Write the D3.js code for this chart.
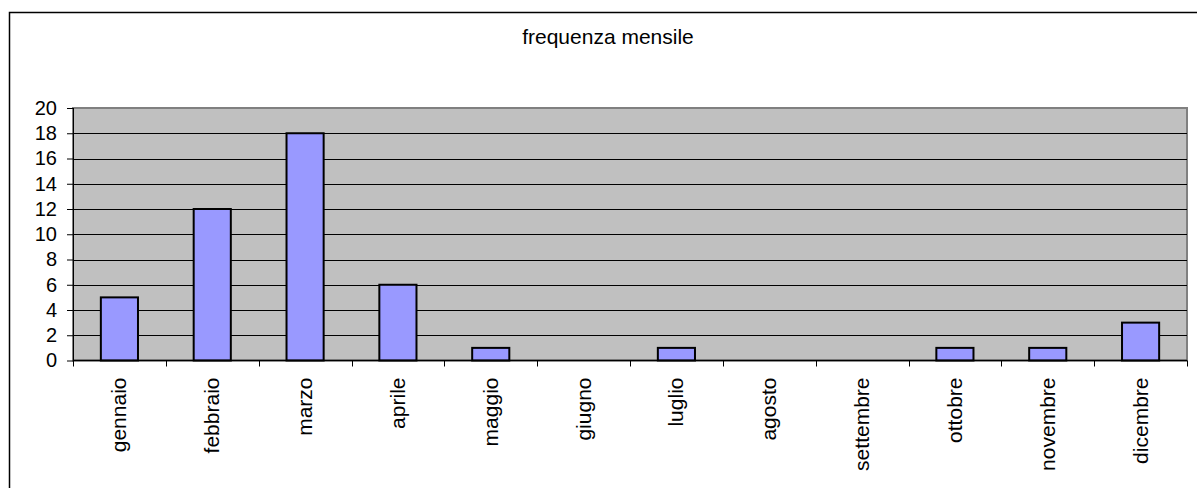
<!DOCTYPE html>
<html>
<head>
<meta charset="utf-8">
<script src="https://cdn.jsdelivr.net/npm/d3@7"></script>
<style>
  html, body { margin: 0; padding: 0; background: #fff; }
  svg { display: block; font-family: "Liberation Sans", Arial, sans-serif; }
</style>
</head>
<body>
<svg id="chart" width="1197" height="488"></svg>
<script>
// Monthly frequency data
const months = ["gennaio", "febbraio", "marzo", "aprile", "maggio", "giugno",
                "luglio", "agosto", "settembre", "ottobre", "novembre", "dicembre"];
const counts = [5, 12, 18, 6, 1, 0, 1, 0, 0, 1, 1, 3];
const yTicks = [0, 2, 4, 6, 8, 10, 12, 14, 16, 18, 20];
const title = "frequenza mensile";

const svg = d3.select("#chart");
const W = 1197, H = 488;
const plot = { left: 73, right: 1187, top: 108, bottom: 360.5 };
const FONT = 20;
const LABEL_FONT = 21;

// Outer chart frame (extends past the visible page)
svg.append("rect")
  .attr("x", 9.5).attr("y", 12.5)
  .attr("width", W + 20).attr("height", H + 20)
  .attr("fill", "#fff").attr("stroke", "#000").attr("stroke-width", 1.5);

svg.append("text")
  .attr("x", 608).attr("y", 44)
  .attr("text-anchor", "middle")
  .attr("font-size", LABEL_FONT)
  .attr("fill", "#000")
  .text(title);

const x = d3.scaleBand()
  .domain(months)
  .range([plot.left, plot.right])
  .paddingInner(0.6)
  .paddingOuter(0.3);

const xBoundary = d3.scaleLinear()
  .domain([0, months.length])
  .range([plot.left, plot.right]);

const y = d3.scaleLinear()
  .domain([0, 20])
  .range([plot.bottom, plot.top]);

// Plot area background
svg.append("rect")
  .attr("x", plot.left).attr("y", plot.top)
  .attr("width", plot.right - plot.left)
  .attr("height", plot.bottom - plot.top)
  .attr("fill", "#c0c0c0")
  .attr("stroke", "#808080").attr("stroke-width", 2);

// Horizontal gridlines
svg.append("g").selectAll("line")
  .data(yTicks.filter(d => d > 0 && d < 20))
  .join("line")
  .attr("x1", plot.left).attr("x2", plot.right)
  .attr("y1", d => Math.round(y(d)) + 0.5).attr("y2", d => Math.round(y(d)) + 0.5)
  .attr("stroke", "#000").attr("stroke-width", 1);

// Bars
svg.append("g").selectAll("rect")
  .data(months.map((m, i) => ({ m, v: counts[i] })).filter(d => d.v > 0))
  .join("rect")
  .attr("x", d => x(d.m))
  .attr("y", d => y(d.v))
  .attr("width", x.bandwidth())
  .attr("height", d => y(0) - y(d.v))
  .attr("fill", "#9999ff")
  .attr("stroke", "#000").attr("stroke-width", 2);

// Y axis
const yAxis = d3.axisLeft(y)
  .tickValues(yTicks)
  .tickSize(6)
  .tickPadding(10)
  .tickFormat(d3.format("d"));
const gy = svg.append("g")
  .attr("transform", `translate(${plot.left},0)`)
  .call(yAxis);
gy.select(".domain").attr("stroke", "#000").attr("d", `M0.5,${plot.top}V${plot.bottom}`);
gy.selectAll(".tick line").attr("stroke", "#000");
gy.selectAll(".tick text").attr("font-size", FONT).attr("fill", "#000")
  .attr("font-family", "Liberation Sans, Arial, sans-serif");

// X axis line with ticks at category boundaries
const gx = svg.append("g");
gx.append("line")
  .attr("x1", plot.left).attr("x2", plot.right)
  .attr("y1", plot.bottom).attr("y2", plot.bottom)
  .attr("stroke", "#000").attr("stroke-width", 1.5);
gx.selectAll("line.tk")
  .data(d3.range(0, months.length + 1))
  .join("line")
  .attr("class", "tk")
  .attr("x1", d => Math.round(xBoundary(d)) + 0.5)
  .attr("x2", d => Math.round(xBoundary(d)) + 0.5)
  .attr("y1", plot.bottom).attr("y2", plot.bottom + 6)
  .attr("stroke", "#000");

// Rotated month labels
gx.selectAll("text")
  .data(months)
  .join("text")
  .attr("transform", d => `translate(${x(d) + x.bandwidth() / 2 + 7},${plot.bottom + 17}) rotate(-90)`)
  .attr("text-anchor", "end")
  .attr("font-size", LABEL_FONT)
  .attr("fill", "#000")
  .text(d => d);
</script>
</body>
</html>
